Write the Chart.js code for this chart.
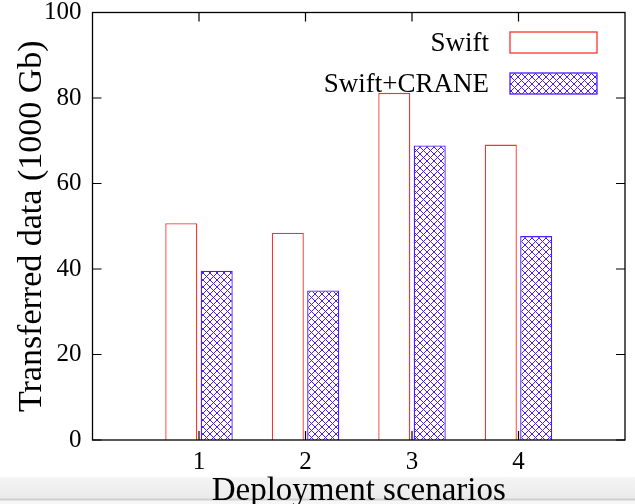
<!DOCTYPE html>
<html>
<head>
<meta charset="utf-8">
<script src="https://cdn.jsdelivr.net/npm/chart.js@4.4.1/dist/chart.umd.min.js"></script>
<style>
	html, body { margin: 0; padding: 0; }
	body {
		width: 635px;
		height: 504px;
		overflow: hidden;
		background: linear-gradient(to bottom, #fff 0, #fff 476px, #f4f4f4 478px, #ebebeb 498px, #cfcfcf 499px, #cfcfcf 500px, #f6f6f6 501px);
	}
</style>
</head>
<body>
<canvas id="transferChart" width="635" height="504"></canvas>
<script>
	const categories = ['1', '2', '3', '4'];
	const swiftValues = [50.7, 48.5, 81.2, 69.1];
	const craneValues = [39.6, 35.0, 68.9, 47.7];
	const yTicks = [0, 20, 40, 60, 80, 100];

	// gnuplot style x range runs 0..5, the end slots stay empty
	const labels = ['', ...categories, ''];
	const pad = (values) => [null, ...values, null];

	const serif = 'Liberation Serif';
	const swiftRed = '#ff3030';
	const craneBlue = '#4a1cff';

	function crossHatch() {
		const size = 7;
		const tile = document.createElement('canvas');
		tile.width = size;
		tile.height = size;
		const tctx = tile.getContext('2d');
		tctx.fillStyle = '#fff';
		tctx.fillRect(0, 0, size, size);
		tctx.strokeStyle = craneBlue;
		tctx.lineWidth = 1;
		tctx.beginPath();
		tctx.moveTo(0, 0);
		tctx.lineTo(size, size);
		tctx.moveTo(0, size);
		tctx.lineTo(size, 0);
		tctx.stroke();
		return tctx.createPattern(tile, 'repeat');
	}

	const hatch = crossHatch();

	// border box plus inward mirrored tics, like gnuplot
	const framePlugin = {
		id: 'frame',
		beforeDatasetsDraw(chart) {
			const { ctx, chartArea: area, scales: { x, y } } = chart;
			ctx.save();
			ctx.strokeStyle = '#000';
			ctx.lineWidth = 1.2;
			ctx.beginPath();
			yTicks.forEach((value) => {
				const py = y.getPixelForValue(value);
				ctx.moveTo(area.left, py);
				ctx.lineTo(area.left + 9, py);
				ctx.moveTo(area.right, py);
				ctx.lineTo(area.right - 9, py);
			});
			categories.forEach((cat) => {
				const px = x.getPixelForValue(labels.indexOf(cat));
				ctx.moveTo(px, area.bottom);
				ctx.lineTo(px, area.bottom - 9);
				ctx.moveTo(px, area.top);
				ctx.lineTo(px, area.top + 9);
			});
			ctx.stroke();
			ctx.restore();
		},
		afterDatasetsDraw(chart) {
			const { ctx, chartArea: area } = chart;
			ctx.save();
			ctx.strokeStyle = '#000';
			ctx.lineWidth = 1.3;
			ctx.strokeRect(area.left, area.top, area.right - area.left, area.bottom - area.top);
			ctx.restore();
		}
	};

	const keyPlugin = {
		id: 'key',
		afterDraw(chart) {
			const { ctx, chartArea: area } = chart;
			ctx.save();
			ctx.font = `27px "${serif}"`;
			ctx.textAlign = 'right';
			ctx.textBaseline = 'middle';
			chart.data.datasets.forEach((dataset, i) => {
				const cy = area.top + 30 + i * 41;
				ctx.fillStyle = '#000';
				ctx.fillText(dataset.label, area.right - 136, cy + 1);
				ctx.fillStyle = dataset.backgroundColor;
				ctx.fillRect(area.right - 115, cy - 10.5, 87, 21);
				ctx.strokeStyle = dataset.borderColor;
				ctx.lineWidth = 1.3;
				ctx.strokeRect(area.right - 115, cy - 10.5, 87, 21);
			});
			ctx.restore();
		}
	};

	new Chart(document.getElementById('transferChart'), {
		type: 'bar',
		data: {
			labels: labels,
			datasets: [
				{
					label: 'Swift',
					data: pad(swiftValues),
					backgroundColor: '#fff',
					borderColor: swiftRed,
					borderWidth: 1.3,
					categoryPercentage: 0.665,
					barPercentage: 0.905
				},
				{
					label: 'Swift+CRANE',
					data: pad(craneValues),
					backgroundColor: hatch,
					borderColor: craneBlue,
					borderWidth: 1.3,
					categoryPercentage: 0.665,
					barPercentage: 0.905
				}
			]
		},
		options: {
			responsive: false,
			animation: false,
			layout: {
				padding: { top: 0, right: 4, bottom: 0, left: 0 }
			},
			plugins: {
				legend: { display: false },
				tooltip: { enabled: false }
			},
			scales: {
				x: {
					offset: false,
					grid: { display: false, drawTicks: false },
					border: { display: false },
					ticks: {
						color: '#000',
						padding: 10,
						autoSkip: false,
						maxRotation: 0,
						font: { family: serif, size: 25, lineHeight: 1 }
					},
					title: {
						display: true,
						text: 'Deployment scenarios',
						color: '#000',
						font: { family: serif, size: 33, lineHeight: 1.2 },
						padding: { top: -13.6, bottom: -7 }
					}
				},
				y: {
					min: 0,
					max: 100,
					grid: { display: false, drawTicks: true, tickLength: 11 },
					border: { display: false },
					afterBuildTicks(scale) {
						scale.ticks = yTicks.map((value) => ({ value }));
					},
					ticks: {
						color: '#000',
						padding: 0,
						font: { family: serif, size: 25, lineHeight: 1 }
					},
					title: {
						display: true,
						text: 'Transferred data (1000 Gb)',
						color: '#000',
						font: { family: serif, size: 34, lineHeight: 1.2 },
						padding: { top: 11.5, bottom: -8.3 }
					}
				}
			}
		},
		plugins: [framePlugin, keyPlugin]
	});
</script>
</body>
</html>
